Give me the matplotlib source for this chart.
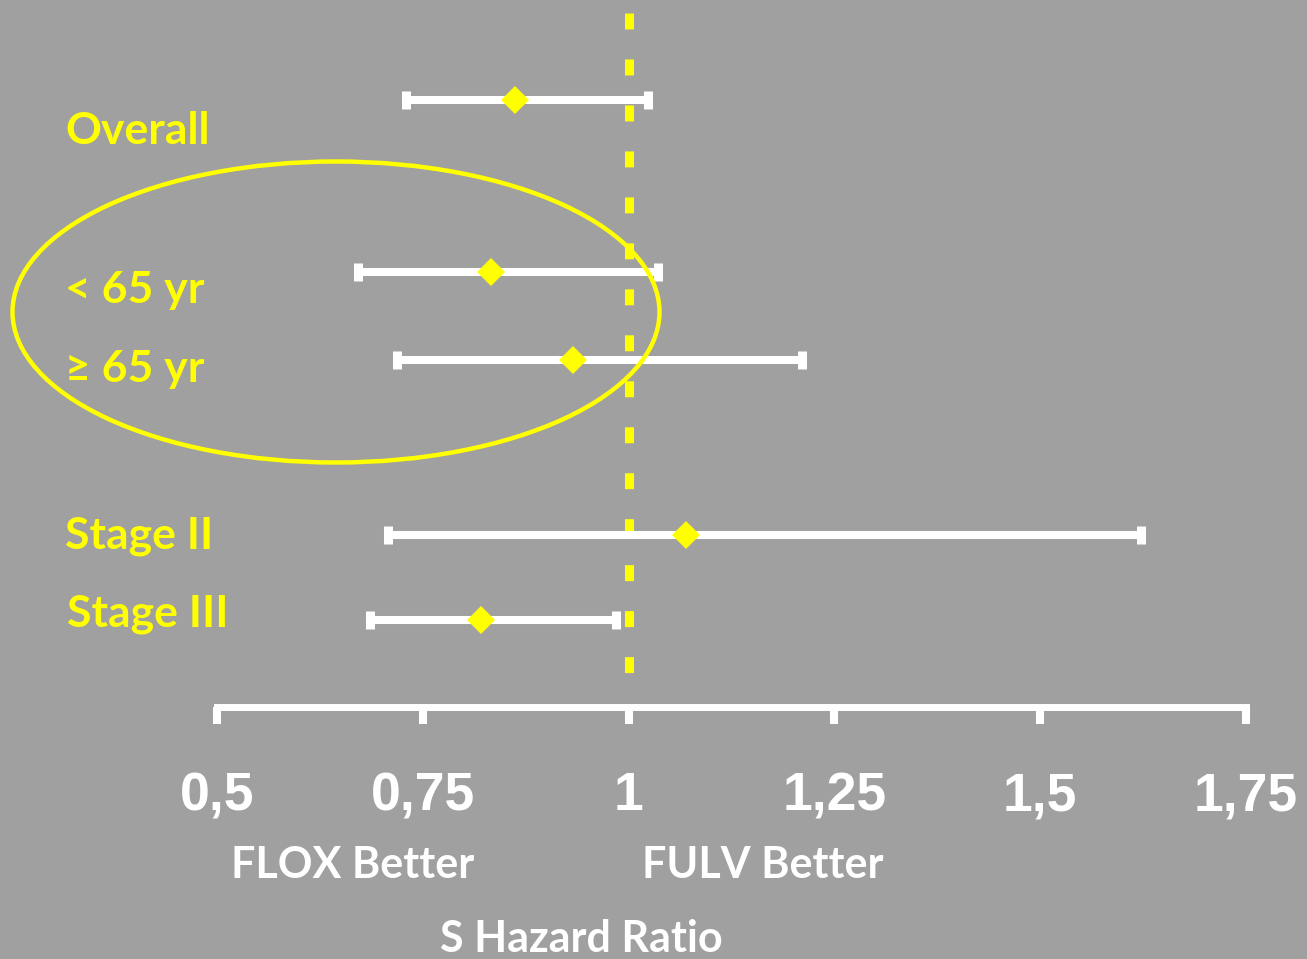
import matplotlib.pyplot as plt
from matplotlib.patches import Ellipse

# hazard ratios with 95% CI per subgroup
groups = ["Overall", "< 65 yr", "\u2265 65 yr", "Stage II", "Stage III"]
hr = [0.862, 0.833, 0.932, 1.070, 0.821]
ci_low = [0.730, 0.671, 0.719, 0.708, 0.686]
ci_high = [1.024, 1.036, 1.211, 1.622, 0.985]
ticks = [0.5, 0.75, 1.0, 1.25, 1.5, 1.75]
tick_labels = ["0,5", "0,75", "1", "1,25", "1,5", "1,75"]

BG = "#a0a0a0"
YEL = "#ffff00"
W, H = 1307, 959

# vertical layout (pixel rows)
row_y = [100, 272, 360, 535, 620]
label_y = [144, 303, 382, 549, 627]
label_x = [65, 65, 65, 65, 67]
axis_y = 707

fig = plt.figure(figsize=(W / 100, H / 100), dpi=100, facecolor=BG)
ax = fig.add_axes([0, 0, 1, 1], facecolor=BG)
# x in HR units, y in pixel rows
x0 = 0.5 - 217 / 823.2
x1 = 0.5 + (W - 217) / 823.2
ax.set_xlim(x0, x1)
ax.set_ylim(H, 0)

ax.plot([1, 1], [13, 680], color=YEL, lw=6.5, dashes=(11.5 / 6.5, 21.6 / 6.5),
        solid_capstyle="butt", dash_capstyle="butt", zorder=1)

xerr = [[h - l for h, l in zip(hr, ci_low)], [u - h for h, u in zip(hr, ci_high)]]
ax.errorbar(hr, row_y, xerr=xerr, fmt="none", ecolor="white", elinewidth=5.8,
            capsize=6.8, capthick=6.5, zorder=2)
ax.plot(hr, row_y, "D", color=YEL, markersize=14.5, markeredgewidth=0, zorder=3)

for s in ["top", "left", "right"]:
    ax.spines[s].set_visible(False)
ax.spines["bottom"].set_position(("data", axis_y))
ax.spines["bottom"].set_bounds(0.5, 1.75)
ax.spines["bottom"].set_color("white")
ax.spines["bottom"].set_linewidth(5.0)
ax.set_yticks([])
ax.set_xticks(ticks)
ax.set_xticklabels(tick_labels, fontfamily="Liberation Sans", fontweight="bold",
                   fontsize=38.5, color="white")
ax.tick_params(axis="x", direction="out", length=12.2, width=5.8, color="white", pad=34)

# overlay in pixel coordinates for labels and the highlight ellipse
ov = fig.add_axes([0, 0, 1, 1], facecolor="none")
ov.set_xlim(0, W)
ov.set_ylim(H, 0)
ov.axis("off")

row_font = dict(family="Lato", weight="bold", fontsize=32)
for g, x, y in zip(groups, label_x, label_y):
    ov.text(x, y, g, color=YEL, ha="left", va="baseline", **row_font)

ov.add_patch(Ellipse((336, 312), 647, 301, fill=False, edgecolor=YEL, lw=3.2))

font = dict(family="Lato", weight="bold", fontsize=31)
ov.text(353, 878, "FLOX Better", color="white", ha="center", va="baseline", **font)
ov.text(763, 878, "FULV Better", color="white", ha="center", va="baseline", **font)
ov.text(581, 952, "S Hazard Ratio", color="white", ha="center", va="baseline", **font)

fig.savefig("out.png", dpi=100, facecolor=BG)
